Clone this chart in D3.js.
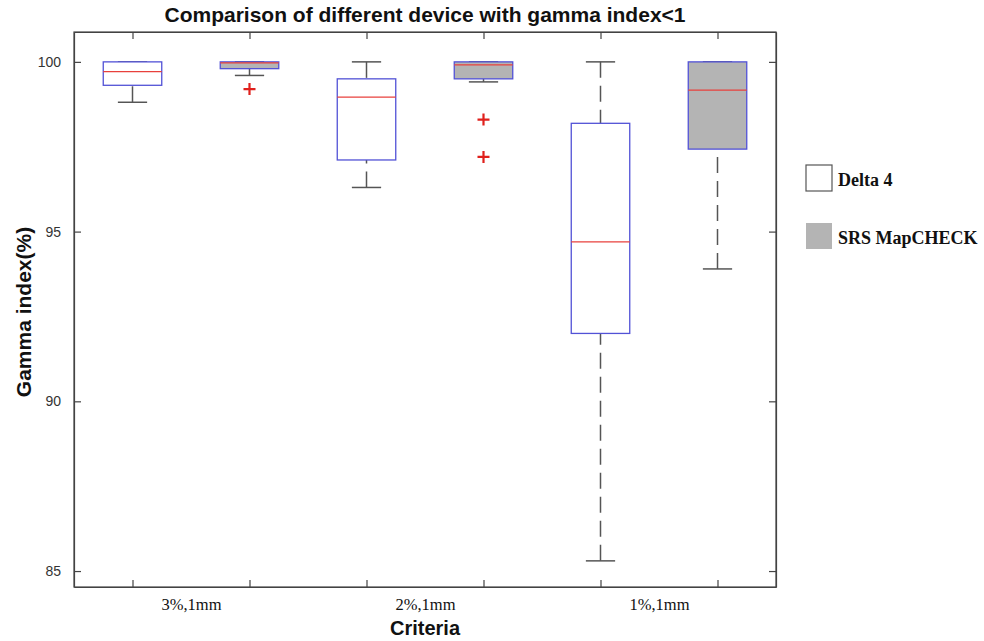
<!DOCTYPE html>
<html>
<head>
<meta charset="utf-8">
<script src="https://cdn.jsdelivr.net/npm/d3@7"></script>
<style>
  html, body { margin: 0; padding: 0; background: #fff; }
  svg { display: block; }
</style>
</head>
<body>
<svg id="chart" width="984" height="641"></svg>
<script>
// Gamma index pass rates (%) per criterion, summarised as box-plot statistics
const criteria = ["3%,1mm", "2%,1mm", "1%,1mm"];
const devices = ["Delta 4", "SRS MapCHECK"];

const delta4Lower  = [98.81, 96.30, 85.30];
const delta4Q1     = [99.31, 97.11, 92.00];
const delta4Median = [99.71, 98.96, 94.70];
const delta4Q3     = [100.0, 99.50, 98.19];
const delta4Upper  = [100.0, 100.0, 100.0];
const delta4Outliers = [[], [], []];

const srsLower  = [99.60, 99.41, 93.90];
const srsQ1     = [99.80, 99.50, 97.43];
const srsMedian = [99.97, 99.91, 99.17];
const srsQ3     = [100.0, 100.0, 100.0];
const srsUpper  = [100.0, 100.0, 100.0];
const srsOutliers = [[99.20], [98.30, 97.20], []];

const yTicks = [85, 90, 95, 100];

// Assemble one record per box (criterion x device)
const boxes = [];
criteria.forEach((c, i) => {
  boxes.push({ pos: i * 2 + 1, device: 0, lower: delta4Lower[i], q1: delta4Q1[i], median: delta4Median[i], q3: delta4Q3[i], upper: delta4Upper[i], outliers: delta4Outliers[i] });
  boxes.push({ pos: i * 2 + 2, device: 1, lower: srsLower[i], q1: srsQ1[i], median: srsMedian[i], q3: srsQ3[i], upper: srsUpper[i], outliers: srsOutliers[i] });
});

const svg = d3.select("#chart");
const plot = { left: 74, right: 776, top: 32, bottom: 587 };

const x = d3.scaleLinear().domain([0.5, 6.5]).range([plot.left, plot.right]);
const y = d3.scaleLinear().domain([84.53, 100.88]).range([plot.bottom, plot.top]);

const axisColor = "#444";
const fills = ["#ffffff", "#b4b4b4"];
const boxStroke = "#5252d6";
const whiskerColor = "#555";
const medianColor = "#e8403c";
const boxHalf = 0.25;   // box half-width in position units
const capHalf = 0.125;

// Axes: ticks point inward on all four sides
const gBottom = svg.append("g").attr("transform", `translate(0,${plot.bottom})`)
  .call(d3.axisBottom(x).tickValues([1, 2, 3, 4, 5, 6]).tickFormat("").tickSizeInner(-7).tickSizeOuter(0));
const gTop = svg.append("g").attr("transform", `translate(0,${plot.top})`)
  .call(d3.axisTop(x).tickValues([1, 2, 3, 4, 5, 6]).tickFormat("").tickSizeInner(-7).tickSizeOuter(0));
const gLeft = svg.append("g").attr("transform", `translate(${plot.left},0)`)
  .call(d3.axisLeft(y).tickValues(yTicks).tickFormat(d3.format("d")).tickSizeInner(-7).tickSizeOuter(0).tickPadding(13));
const gRight = svg.append("g").attr("transform", `translate(${plot.right},0)`)
  .call(d3.axisRight(y).tickValues(yTicks).tickFormat("").tickSizeInner(-7).tickSizeOuter(0));

[gBottom, gTop, gLeft, gRight].forEach(g => {
  g.select(".domain").attr("stroke", axisColor).attr("stroke-width", 1.2);
  g.selectAll(".tick line").attr("stroke", axisColor).attr("stroke-width", 1.2);
});
gLeft.selectAll(".tick text")
  .attr("fill", "#333").style("font-family", "'Liberation Sans', Arial, sans-serif").style("font-size", "14px");

// Criterion labels centred under each pair of boxes
const gCat = svg.append("g").attr("transform", `translate(0,${plot.bottom})`)
  .call(d3.axisBottom(x).tickValues([1.5, 3.5, 5.5]).tickFormat((d, i) => criteria[i]).tickSize(0).tickPadding(11));
gCat.select(".domain").remove();
gCat.selectAll(".tick text")
  .attr("fill", "#111").style("font-family", "'Liberation Serif', 'Times New Roman', serif").style("font-size", "16.5px");

// Boxes
const gBoxes = svg.append("g");
boxes.forEach(b => {
  const g = gBoxes.append("g");
  const cx = x(b.pos);
  // whiskers (dashed, drawn from cap toward box)
  g.append("line").attr("x1", cx).attr("x2", cx).attr("y1", y(b.upper)).attr("y2", y(b.q3))
    .attr("stroke", whiskerColor).attr("stroke-width", 1.5).attr("stroke-dasharray", "16,8");
  g.append("line").attr("x1", cx).attr("x2", cx).attr("y1", y(b.lower)).attr("y2", y(b.q1))
    .attr("stroke", whiskerColor).attr("stroke-width", 1.5).attr("stroke-dasharray", "16,8");
  // caps
  [b.upper, b.lower].forEach(v => {
    g.append("line").attr("x1", x(b.pos - capHalf)).attr("x2", x(b.pos + capHalf))
      .attr("y1", y(v)).attr("y2", y(v)).attr("stroke", whiskerColor).attr("stroke-width", 1.5);
  });
  // box
  g.append("rect")
    .attr("x", x(b.pos - boxHalf)).attr("width", x(b.pos + boxHalf) - x(b.pos - boxHalf))
    .attr("y", y(b.q3)).attr("height", y(b.q1) - y(b.q3))
    .attr("fill", fills[b.device]).attr("stroke", boxStroke).attr("stroke-width", 1.3);
  // median
  g.append("line").attr("x1", x(b.pos - boxHalf)).attr("x2", x(b.pos + boxHalf))
    .attr("y1", y(b.median)).attr("y2", y(b.median)).attr("stroke", medianColor).attr("stroke-width", 1.2);
  // outliers as red plus signs
  b.outliers.forEach(v => {
    const oy = y(v);
    g.append("path").attr("d", `M${cx - 6},${oy}H${cx + 6}M${cx},${oy - 6}V${oy + 6}`)
      .attr("stroke", "#e0201c").attr("stroke-width", 2.2).attr("fill", "none");
  });
});

// Plot frame on top of everything
svg.append("rect").attr("x", plot.left).attr("y", plot.top)
  .attr("width", plot.right - plot.left).attr("height", plot.bottom - plot.top)
  .attr("fill", "none").attr("stroke", axisColor).attr("stroke-width", 1.2);

// Title and axis titles
svg.append("text").attr("x", (plot.left + plot.right) / 2).attr("y", 22)
  .attr("text-anchor", "middle").attr("fill", "#111")
  .style("font-family", "'Liberation Sans', Arial, sans-serif").style("font-weight", "bold").style("font-size", "21px")
  .text("Comparison of different device with gamma index<1");

svg.append("text").attr("x", (plot.left + plot.right) / 2).attr("y", 635)
  .attr("text-anchor", "middle").attr("fill", "#111")
  .style("font-family", "'Liberation Sans', Arial, sans-serif").style("font-weight", "bold").style("font-size", "20px")
  .text("Criteria");

svg.append("text").attr("transform", `translate(31,312) rotate(-90)`)
  .attr("text-anchor", "middle").attr("fill", "#111")
  .style("font-family", "'Liberation Sans', Arial, sans-serif").style("font-weight", "bold").style("font-size", "21px")
  .text("Gamma index(%)");

// Legend
const legend = svg.append("g").attr("transform", "translate(806,165)");
devices.forEach((d, i) => {
  const row = legend.append("g").attr("transform", `translate(0,${i * 58})`);
  row.append("rect").attr("width", 26).attr("height", 26)
    .attr("fill", fills[i]).attr("stroke", i === 0 ? "#555" : "none").attr("stroke-width", 1.2);
  row.append("text").attr("x", 32).attr("y", 21).attr("fill", "#111")
    .style("font-family", "'Liberation Serif', 'Times New Roman', serif").style("font-weight", "bold").style("font-size", "18px")
    .text(d);
});
</script>
</body>
</html>
